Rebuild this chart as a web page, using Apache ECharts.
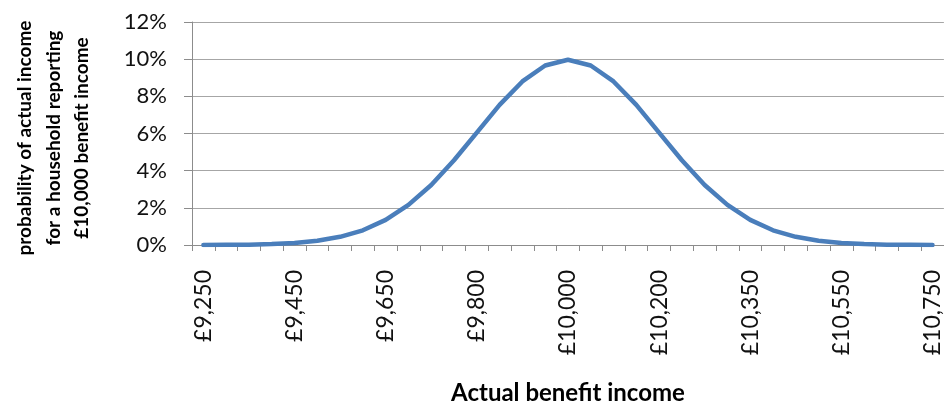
<!DOCTYPE html>
<html>
<head>
<meta charset="utf-8">
<script src="https://cdn.jsdelivr.net/npm/echarts@6/dist/echarts.min.js"></script>
<style>
html,body{margin:0;padding:0;background:#fff;}
#chart{width:944px;height:410px;}
</style>
</head>
<body>
<div id="chart"></div>
<script>
// Category labels (actual benefit income), one per data point
const categories = [
  "£9,250","£9,300","£9,350","£9,400","£9,450","£9,500","£9,550","£9,600",
  "£9,650","£9,650","£9,700","£9,750","£9,800","£9,850","£9,900","£9,950",
  "£10,000","£10,050","£10,100","£10,150","£10,200","£10,250","£10,300","£10,350",
  "£10,350","£10,400","£10,450","£10,500","£10,550","£10,600","£10,650","£10,700",
  "£10,750"
];
// Probability (%) of actual income for a household reporting £10,000
const probability = [
  0.00, 0.01, 0.02, 0.05, 0.11, 0.23, 0.44, 0.79,
  1.35, 2.16, 3.23, 4.56, 6.05, 7.54, 8.80, 9.66,
  9.97,
  9.66, 8.80, 7.54, 6.05, 4.56, 3.23, 2.16, 1.35,
  0.79, 0.44, 0.23, 0.11, 0.05, 0.02, 0.01, 0.00
];
const yTicks = { min: 0, max: 12, interval: 2 };
const xTitle = "Actual benefit income";
const yTitle = "probability of actual income\nfor a household reporting\n£10,000 benefit income";

const FONT = "Lato";
const chart = echarts.init(document.getElementById('chart'), null, {renderer: 'canvas'});
chart.setOption({
  animation: false,
  backgroundColor: '#ffffff',
  grid: { left: 192, right: 0, top: 22, bottom: 160.7, containLabel: false },
  xAxis: {
    type: 'category',
    data: categories,
    boundaryGap: true,
    name: xTitle,
    nameLocation: 'middle',
    nameGap: 136,
    nameTextStyle: { fontFamily: FONT, fontWeight: 'bold', fontSize: 24, color: '#000' },
    axisLine: { lineStyle: { color: '#8c8c8c', width: 1 } },
    axisTick: { show: true, interval: 0, length: 6, alignWithLabel: false, lineStyle: { color: '#8c8c8c' } },
    axisLabel: { interval: 3, rotate: 90, margin: 25, fontFamily: FONT, fontSize: 23, color: '#111' },
    splitLine: { show: false }
  },
  yAxis: {
    type: 'value',
    min: yTicks.min, max: yTicks.max, interval: yTicks.interval,
    axisLine: { show: true, lineStyle: { color: '#8c8c8c', width: 1 } },
    axisTick: { show: true, length: 8, lineStyle: { color: '#8c8c8c' } },
    axisLabel: { formatter: '{value}%', margin: 25, fontFamily: FONT, fontSize: 22, color: '#111' },
    splitLine: { show: true, lineStyle: { color: '#a6a6a6', width: 1 } }
  },
  graphic: [{
    type: 'text',
    x: 53.5, y: 138,
    rotation: Math.PI / 2,
    style: {
      text: yTitle,
      fontFamily: FONT, fontWeight: 'bold', fontSize: 19,
      lineHeight: 28.5,
      fill: '#000',
      align: 'center', verticalAlign: 'middle'
    }
  }],
  series: [{
    type: 'line',
    data: probability,
    smooth: false,
    symbol: 'none',
    lineStyle: { color: '#4a7ebb', width: 4.5, cap: 'round', join: 'round' }
  }]
});
</script>
</body>
</html>
